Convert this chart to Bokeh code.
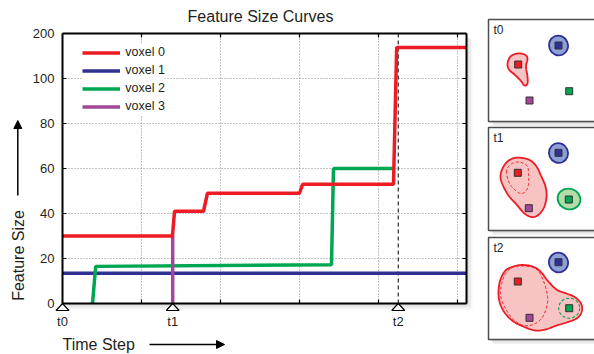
import numpy as np
from bokeh.plotting import figure
from bokeh.models import (Range1d, LinearAxis, FixedTicker, Legend, LegendItem, Label,
                          Arrow, NormalHead)
from bokeh.layouts import row
from bokeh.embed import file_html
from bokeh.resources import INLINE
from bokeh.core.properties import value

# ---------------- data (time step, feature size) ----------------
red_t = [0, 13.92, 14.18, 17.85, 18.35, 30.0, 30.4, 41.9, 42.3, 51.2]
red_v = [30, 30, 41, 41, 49, 49, 53, 53, 169, 169]
blue_t = [0, 51.2]
blue_v = [13.5, 13.5]
green_t = [3.8, 4.2, 34.05, 34.3, 41.9]
green_v = [0, 16.5, 17.2, 60, 60]
purple_t = [13.95, 13.95]
purple_v = [0, 30]

series_names = ["voxel 0", "voxel 1", "voxel 2", "voxel 3"]
series_colors = ["#ED1C24", "#2E3192", "#00A651", "#A3479A"]

y_ticks_real = [0, 20, 40, 60, 80, 100, 200]
x_grid_ticks = [10, 20, 30, 40, 50]
t_steps = [0, 13.95, 42.5]
t_labels = ["t0", "t1", "t2"]
X_END = 51.14

# ---------------- snapshot panels (illustration, page pixels) ----------------
panel_tops = [19, 127, 237]
panel_bottoms = [121, 230, 339]
panel_labels = ["t0", "t1", "t2"]

blue_blob_x = [558, 558, 558]
blue_blob_y = [45, 152.5, 262]
green_blob_x = [568.5]
green_blob_y = [198.5]

sq_red_x = [517.7, 517.3, 517.3]
sq_red_y = [64, 172.3, 281]
sq_blue_x = [558, 558, 558]
sq_blue_y = [45, 152.3, 261.7]
sq_green_x = [568.7, 568.3, 568.7]
sq_green_y = [90.7, 199, 307.7]
sq_purple_x = [529, 528.3, 529]
sq_purple_y = [100, 207.7, 317.3]

red0_x = [507, 510, 517, 524, 527, 525.5, 527, 527, 524, 520, 514, 508.5]
red0_y = [63, 56, 53, 54, 58, 66, 76, 83, 85, 80, 74, 69]
red1_x = [502, 507, 514, 522, 530, 536, 540, 545, 546, 543, 537, 531, 524, 516, 508, 502, 500]
red1_y = [168, 161, 157.5, 157.5, 160, 166, 174, 186, 197, 208, 215, 216.5, 213, 204, 195, 184, 176]
red1i_x = [506, 508, 514, 521, 527, 528, 528, 525, 520, 514, 509]
red1i_y = [172, 166, 162, 162, 166, 174, 184, 191, 193, 189, 183]
red2_x = [498, 500, 505, 513, 522, 532, 540, 547, 556, 566, 575, 581, 581, 576, 566, 556, 545, 535, 525, 513, 504, 499]
red2_y = [290, 279, 270, 266, 264.5, 266, 271, 280, 289, 293, 297, 304, 312, 318, 322, 325, 329, 330, 327, 321, 312, 301]
red2i_x = [501, 505, 513, 524, 535, 541, 546, 547, 543, 535, 523, 512, 504, 500]
red2i_y = [284, 273, 266.5, 265.5, 268, 276, 290, 302, 315, 323, 325, 318, 306, 295]


def to_disp(v):
    v = np.asarray(v, dtype=float)
    return np.where(v <= 100, v, 100 + (v - 100) / 5.0)


def smooth_closed(xs, ys, n=10):
    P = np.column_stack([xs, ys]).astype(float)
    m = len(P)
    out = []
    for i in range(m):
        p0, p1, p2_, p3 = P[i - 1], P[i], P[(i + 1) % m], P[(i + 2) % m]
        for t in np.linspace(0, 1, n, endpoint=False):
            t2, t3 = t * t, t * t * t
            pt = 0.5 * ((2 * p1) + (-p0 + p2_) * t + (2 * p0 - 5 * p1 + 4 * p2_ - p3) * t2
                        + (-p0 + 3 * p1 - 3 * p2_ + p3) * t3)
            out.append(pt)
    out.append(out[0])
    out = np.array(out)
    return list(out[:, 0]), list(out[:, 1])


FONT = "Liberation Sans"
TXT = "#231F20"

# ---------------- main chart ----------------
# chart box: 62..466 px horizontally, 33..303 px vertically inside a 480x354 canvas
PX_X = 404 / X_END          # px per time unit
PX_Y = 270 / 120.0          # px per display unit
W, H = 480, 354
x_rng = Range1d(-62 / PX_X, (W - 62) / PX_X)
y_rng = Range1d(-(H - 303) / PX_Y, 303 / PX_Y)

p = figure(width=W, height=H, x_range=x_rng, y_range=y_rng,
           output_backend="svg", toolbar_location=None, min_border=0,
           x_axis_type=None, y_axis_type=None)
p.outline_line_color = None
p.background_fill_color = "white"
p.grid.visible = False

disp_ticks = [float(v) for v in to_disp(y_ticks_real)]
Y_TOP = disp_ticks[-1]
overrides = {d: str(r) for d, r in zip(disp_ticks, y_ticks_real)}


def frame_axis(ticks, loc, bounds, labels=None):
    ax = LinearAxis(ticker=FixedTicker(ticks=ticks), fixed_location=loc, bounds=bounds,
                    major_tick_in=4, major_tick_out=0, minor_tick_line_color=None,
                    axis_line_width=2, axis_line_color="black",
                    major_tick_line_color="black", major_tick_line_width=1.2,
                    major_label_text_font=FONT, major_label_text_font_size="13px",
                    major_label_text_color=TXT)
    if labels is not None:
        ax.major_label_overrides = labels
    else:
        ax.major_label_overrides = {t: "" for t in ticks}
        ax.major_label_standoff = 0
    return ax


# soft shadow behind chart box
for off, a in [(6, 0.04), (4, 0.05), (2, 0.06)]:
    p.quad(left=[off / PX_X], right=[X_END + off / PX_X], top=[Y_TOP - off / PX_Y],
           bottom=[-off / PX_Y], fill_color="black", fill_alpha=a, line_color=None)
p.quad(left=[0], right=[X_END], top=[Y_TOP], bottom=[0], fill_color="white", line_color=None)

# dotted grid
p.segment(x0=x_grid_ticks, y0=[0] * len(x_grid_ticks), x1=x_grid_ticks,
          y1=[Y_TOP] * len(x_grid_ticks), line_color="#8a8a8a", line_dash="1 2", line_width=1)
inner_y = disp_ticks[1:-1]
p.segment(x0=[0] * len(inner_y), y0=inner_y, x1=[X_END] * len(inner_y), y1=inner_y,
          line_color="#8a8a8a", line_dash="1 2", line_width=1)

# t2 dashed marker line
p.segment(x0=[t_steps[2]], y0=[0], x1=[t_steps[2]], y1=[Y_TOP], line_color="black",
          line_dash="4 3", line_width=1)

LW = 3.5
r_blue = p.line(blue_t, to_disp(blue_v), line_color=series_colors[1], line_width=LW)
r_green = p.line(green_t, to_disp(green_v), line_color=series_colors[2], line_width=LW)
r_purple = p.line(purple_t, to_disp(purple_v), line_color=series_colors[3], line_width=LW)
r_red = p.line(red_t, to_disp(red_v), line_color=series_colors[0], line_width=LW)

# frame axes
left_ax = frame_axis(disp_ticks, 0, (0, Y_TOP), labels=overrides)
left_ax.major_label_standoff = 8
p.add_layout(left_ax, "left")
p.add_layout(frame_axis(disp_ticks, X_END, (0, Y_TOP)), "right")
p.add_layout(frame_axis(x_grid_ticks, 0, (0, X_END)), "below")
p.add_layout(frame_axis(x_grid_ticks, Y_TOP, (0, X_END)), "above")

# time-step axis labels (t0, t1, t2)
t_axis = LinearAxis(ticker=FixedTicker(ticks=t_steps), fixed_location=0, bounds=(0, X_END),
                    major_label_overrides={t: s for t, s in zip(t_steps, t_labels)},
                    major_tick_line_color=None, minor_tick_line_color=None,
                    axis_line_color=None, major_label_standoff=4,
                    major_label_text_font=FONT, major_label_text_font_size="13px",
                    major_label_text_color=TXT)
p.add_layout(t_axis, "below")

# time-step triangles
tri_xs = [[t - 6.5 / PX_X, t, t + 6.5 / PX_X] for t in t_steps]
tri_ys = [[-7 / PX_Y, 0, -7 / PX_Y] for _ in t_steps]
p.patches(tri_xs, tri_ys, fill_color="white", line_color="black", line_width=1.2)

legend = Legend(items=[LegendItem(label=series_names[0], renderers=[r_red]),
                       LegendItem(label=series_names[1], renderers=[r_blue]),
                       LegendItem(label=series_names[2], renderers=[r_green]),
                       LegendItem(label=series_names[3], renderers=[r_purple])],
                location=(82.3, 239.2), padding=7, margin=0, spacing=1,
                glyph_width=38, glyph_height=17, label_height=17, label_standoff=5,
                label_text_font=FONT, label_text_font_size="12.5px", label_text_color=TXT,
                border_line_color=None, background_fill_color="white", background_fill_alpha=1)
p.add_layout(legend)

p.add_layout(Label(x=(260 - 62) / PX_X, y=(303 - 16) / PX_Y, text="Feature Size Curves",
                   text_align="center", text_baseline="middle", text_font=FONT,
                   text_font_size="16px", text_color=TXT))
p.add_layout(Label(x=(17.5 - 62) / PX_X, y=(303 - 255) / PX_Y, text="Feature Size", angle=90,
                   angle_units="deg", text_align="center", text_baseline="middle",
                   text_font=FONT, text_font_size="16px", text_color=TXT))
p.add_layout(Arrow(x_start=(17.3 - 62) / PX_X, y_start=(303 - 195) / PX_Y,
                   x_end=(17.3 - 62) / PX_X, y_end=(303 - 120) / PX_Y, line_width=1.5,
                   line_color="black",
                   end=NormalHead(size=8, fill_color="black", line_color="black")))
p.add_layout(Label(x=0, y=(303 - 344) / PX_Y, text="Time Step", text_align="left",
                   text_baseline="middle", text_font=FONT, text_font_size="16px",
                   text_color=TXT))
p.add_layout(Arrow(x_start=(149 - 62) / PX_X, y_start=(303 - 344) / PX_Y,
                   x_end=(224 - 62) / PX_X, y_end=(303 - 344) / PX_Y, line_width=1.5,
                   line_color="black",
                   end=NormalHead(size=8, fill_color="black", line_color="black")))

# ---------------- snapshot panels ----------------
p2 = figure(width=114, height=H, x_range=Range1d(480, 594), y_range=Range1d(H, 0),
            x_axis_type=None, y_axis_type=None, output_backend="svg", toolbar_location=None,
            min_border=0)
p2.outline_line_color = None
p2.grid.visible = False

for off, a in [(4.5, 0.05), (3, 0.06), (1.5, 0.07)]:
    p2.quad(left=[488 + off] * 3, right=[600] * 3,
            top=[t + off for t in panel_tops], bottom=[b + off for b in panel_bottoms],
            fill_color="black", fill_alpha=a, line_color=None)
p2.quad(left=[488] * 3, right=[600] * 3, top=panel_tops, bottom=panel_bottoms,
        fill_color="white", line_color="#4d4d4d", line_width=1.5)
p2.text(x=[493] * 3, y=[t + 10 for t in panel_tops], text=panel_labels,
        text_font=value(FONT), text_font_size="12px", text_color=TXT,
        text_baseline="middle", text_align="left")

RED_FILL = "#F7C3C3"
for xs, ys in [(red0_x, red0_y), (red1_x, red1_y), (red2_x, red2_y)]:
    sx, sy = smooth_closed(xs, ys)
    p2.patch(sx, sy, fill_color=RED_FILL, line_color=series_colors[0], line_width=1.8)
for xs, ys in [(red1i_x, red1i_y), (red2i_x, red2i_y)]:
    sx, sy = smooth_closed(xs, ys)
    p2.line(sx, sy, line_color=series_colors[0], line_width=1, line_dash="3 2")

p2.ellipse(x=blue_blob_x, y=blue_blob_y, width=19, height=20, angle=0.4,
           fill_color="#8C9FD6", line_color=series_colors[1], line_width=1.8)
p2.ellipse(x=green_blob_x, y=green_blob_y, width=23, height=20.5, angle=-0.3,
           fill_color="#B3DCA8", line_color=series_colors[2], line_width=1.8)
p2.ellipse(x=[sq_green_x[2]], y=[sq_green_y[2]], width=21, height=20, angle=0,
           fill_color=None, line_color=series_colors[2], line_width=1.1, line_dash="3 2")

for xs, ys, c in [(sq_red_x, sq_red_y, series_colors[0]), (sq_blue_x, sq_blue_y, series_colors[1]),
                  (sq_green_x, sq_green_y, series_colors[2]),
                  (sq_purple_x, sq_purple_y, series_colors[3])]:
    p2.scatter(x=xs, y=ys, marker="square", size=7, fill_color=c, line_color="#333333",
               line_width=1)

layout = row(p, p2)
open("out.html", "w").write(file_html(layout, INLINE))
